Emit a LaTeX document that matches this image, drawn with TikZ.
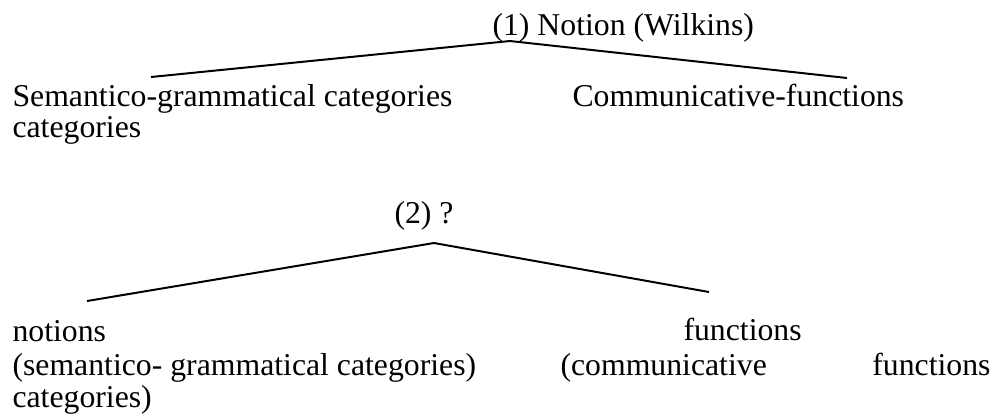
\documentclass[tikz,border=0pt]{standalone}
\usepackage{fontspec}
\setmainfont{Liberation Serif}
\usetikzlibrary{positioning}

\begin{document}
\begin{tikzpicture}[
  x=0.378pt, y=-0.378pt,
  font=\fontsize{12}{12}\selectfont,
  txt/.style={inner sep=0pt, anchor=base west},
  txtr/.style={inner sep=0pt, anchor=base east},
  branch/.style={line width=0.75pt}
]
  \useasboundingbox (0,0) rectangle (997,418);
  % first tree
  \node[txt] (top1) at (492,35) {(1) Notion (Wilkins)};
  \node[txt] (sem1) at (12,106) {Semantico-grammatical categories};
  \node[txt] (cat1) at (12,137) {categories};
  \node[txt] (com1) at (572,106) {Communicative-functions};
  \coordinate (apex1) at (510,41);
  \coordinate (left1) at (151,77);
  \coordinate (right1) at (847,78);
  \draw[branch] (left1) -- (apex1) -- (right1);
  % second tree
  \node[txt] (top2) at (394,223) {(2) ?};
  \node[txt] (not2) at (12,341) {notions};
  \node[txt] (fun2) at (683,340) {functions};
  \node[txt] (sem2) at (12,375) {(semantico- grammatical categories)};
  \node[txt] (com2) at (560,375) {(communicative};
  \node[txtr] (fnc2) at (991,375) {functions};
  \node[txt] (cat2) at (12,407) {categories)};
  \coordinate (apex2) at (434,243);
  \coordinate (left2) at (87,301);
  \coordinate (right2) at (709,292);
  \draw[branch] (left2) -- (apex2) -- (right2);
\end{tikzpicture}
\end{document}
